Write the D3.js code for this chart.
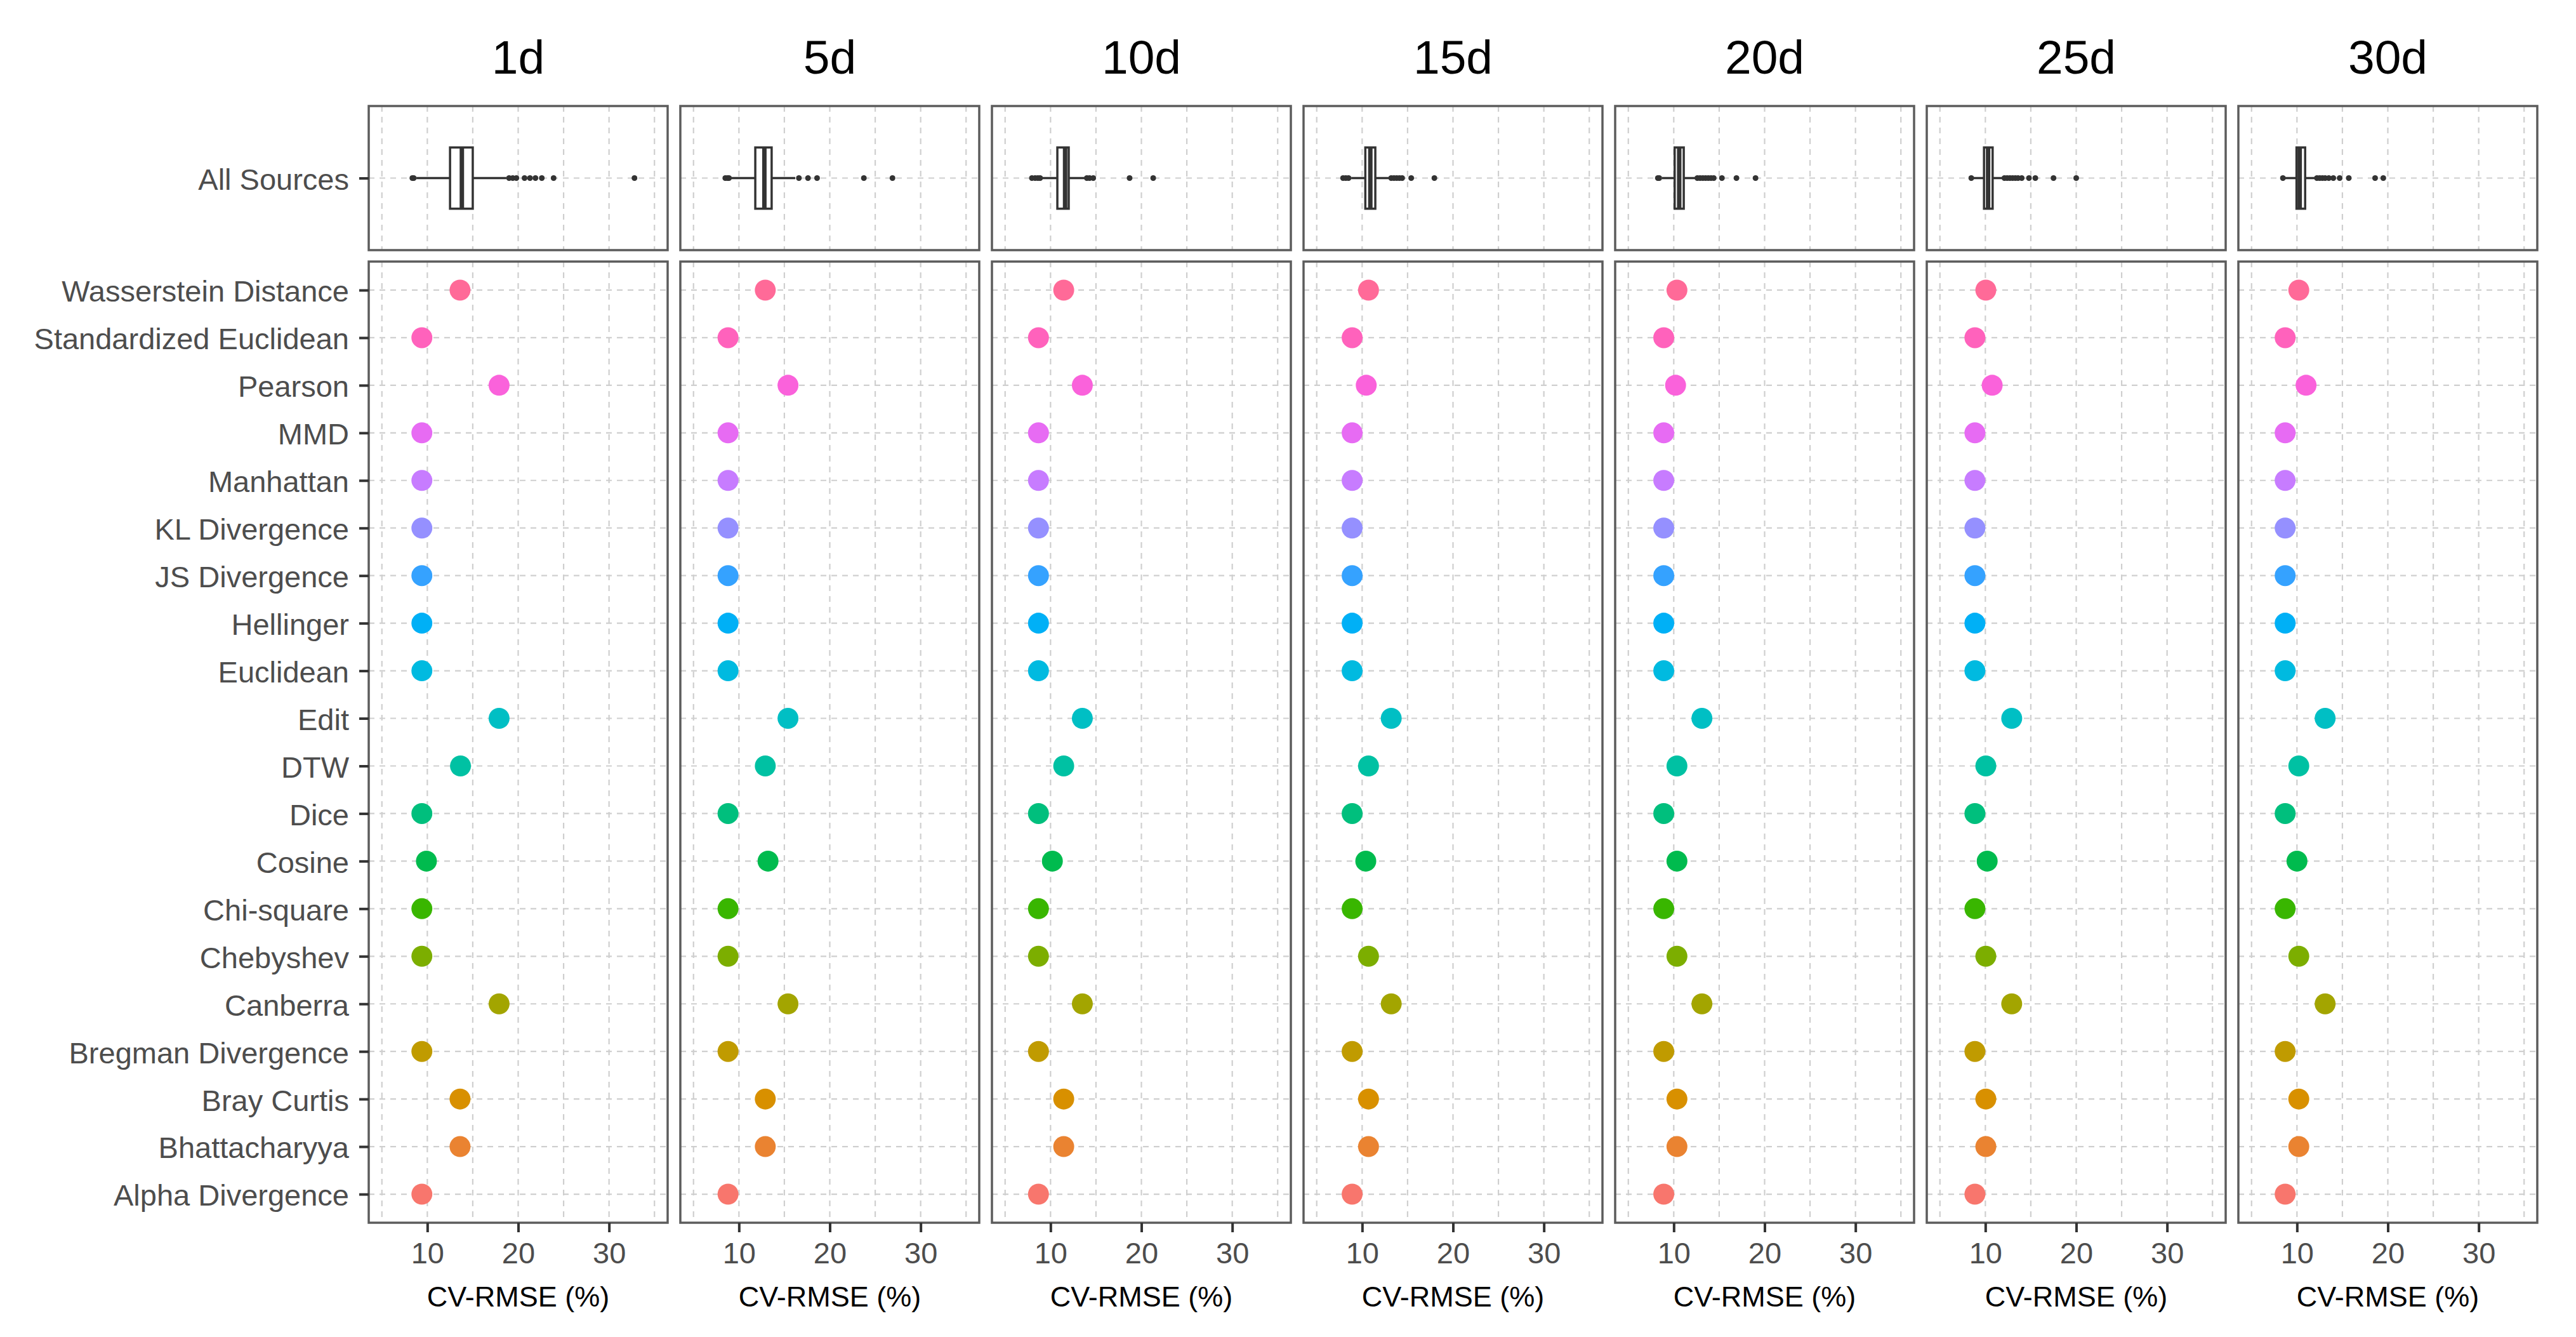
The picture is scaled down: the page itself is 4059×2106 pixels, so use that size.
<!DOCTYPE html>
<html>
<head>
<meta charset="utf-8">
<script src="https://cdn.jsdelivr.net/npm/d3@7"></script>
<style>
  html, body { margin: 0; padding: 0; background: #fff; }
  svg { display: block; font-family: "Liberation Sans", Arial, sans-serif; }
</style>
</head>
<body>
<script>
const width = 4059;
const height = 2106;

const facets = ["1d", "5d", "10d", "15d", "20d", "25d", "30d"];

// factor levels, alphabetical (Alpha at the bottom of the axis)
const methods = [
  "Alpha Divergence", "Bhattacharyya", "Bray Curtis", "Bregman Divergence", "Canberra",
  "Chebyshev", "Chi-square", "Cosine", "Dice", "DTW", "Edit", "Euclidean", "Hellinger",
  "JS Divergence", "KL Divergence", "Manhattan", "MMD", "Pearson",
  "Standardized Euclidean", "Wasserstein Distance"
];

// CV-RMSE (%) per method, same order as methods
const rmse1d  = [9.4, 13.6, 13.6, 9.4, 17.9, 9.4, 9.4, 9.9, 9.4, 13.65, 17.9, 9.4, 9.4, 9.4, 9.4, 9.4, 9.4, 17.9, 9.4, 13.6];
const rmse5d  = [8.8, 12.9, 12.9, 8.8, 15.4, 8.8, 8.8, 13.2, 8.8, 12.9, 15.4, 8.8, 8.8, 8.8, 8.8, 8.8, 8.8, 15.4, 8.8, 12.9];
const rmse10d = [8.67, 11.45, 11.45, 8.67, 13.5, 8.67, 8.67, 10.2, 8.67, 11.45, 13.5, 8.67, 8.67, 8.67, 8.67, 8.67, 8.67, 13.5, 8.67, 11.45];
const rmse15d = [8.9, 10.7, 10.7, 8.9, 13.2, 10.7, 8.9, 10.4, 8.9, 10.7, 13.2, 8.9, 8.9, 8.9, 8.9, 8.9, 8.9, 10.45, 8.9, 10.7];
const rmse20d = [8.9, 10.35, 10.35, 8.9, 13.1, 10.35, 8.9, 10.35, 8.9, 10.35, 13.1, 8.9, 8.9, 8.9, 8.9, 8.9, 8.9, 10.2, 8.9, 10.35];
const rmse25d = [8.85, 10.05, 10.05, 8.85, 12.9, 10.05, 8.85, 10.2, 8.85, 10.05, 12.9, 8.85, 8.85, 8.85, 8.85, 8.85, 8.85, 10.75, 8.85, 10.05];
const rmse30d = [8.7, 10.2, 10.2, 8.7, 13.1, 10.2, 8.7, 10.0, 8.7, 10.2, 13.1, 8.7, 8.7, 8.7, 8.7, 8.7, 8.7, 11.0, 8.7, 10.2];
const rmseByFacet = [rmse1d, rmse5d, rmse10d, rmse15d, rmse20d, rmse25d, rmse30d];

// "All Sources" boxplot: [lower whisker, q1, median, q3, upper whisker]
const box1d  = [8.8, 12.5, 13.8, 15.0, 18.7];
const box5d  = [9.1, 11.8, 12.8, 13.6, 16.2];
const box10d = [9.0, 10.75, 11.6, 12.0, 13.8];
const box15d = [8.8, 10.35, 10.9, 11.45, 13.0];
const box20d = [8.7, 10.1, 10.6, 11.1, 12.5];
const box25d = [8.6, 9.85, 10.3, 10.8, 11.9];
const box30d = [8.6, 9.95, 10.3, 10.9, 12.0];
const boxByFacet = [box1d, box5d, box10d, box15d, box20d, box25d, box30d];

const out1d  = [8.35, 8.5, 19.0, 19.4, 19.8, 20.7, 21.3, 21.9, 22.6, 23.9, 32.8];
const out5d  = [8.5, 8.75, 8.9, 16.6, 17.6, 18.6, 23.75, 26.9];
const out10d = [7.95, 8.3, 8.6, 8.85, 14.0, 14.3, 14.7, 18.7, 21.3];
const out15d = [7.9, 8.2, 8.5, 13.2, 13.5, 13.8, 14.1, 14.4, 15.4, 17.95];
const out20d = [8.25, 8.4, 12.6, 12.9, 13.2, 13.5, 13.8, 14.1, 14.4, 15.3, 16.9, 19.0];
const out25d = [8.45, 12.1, 12.4, 12.7, 13.0, 13.3, 13.6, 14.0, 14.8, 15.5, 17.5, 20.0];
const out30d = [8.45, 12.2, 12.5, 12.8, 13.1, 13.5, 14.0, 14.7, 15.7, 18.6, 19.5];
const outByFacet = [out1d, out5d, out10d, out15d, out20d, out25d, out30d];

const xTicks = [10, 20, 30];
const xGrid = [5, 10, 15, 20, 25, 30, 35];

// ggplot2 default hue palette: hcl(h, c = 100, l = 65) in polar CIELUV
function hclR(h, c, l) {
  const rad = h * Math.PI / 180;
  const U = c * Math.cos(rad), V = c * Math.sin(rad);
  const Xn = 95.047, Yn = 100, Zn = 108.883;
  const Y = Yn * (l > 7.999592 ? Math.pow((l + 16) / 116, 3) : l / 903.3);
  const t = Xn + Yn + Zn;
  const x = Xn / t, y = Yn / t;
  const uN = 2 * x / (6 * y - x + 1.5), vN = 4.5 * y / (6 * y - x + 1.5);
  const u = U / (13 * l) + uN, v = V / (13 * l) + vN;
  const X = 9 * Y * u / (4 * v);
  const Z = -X / 3 - 5 * Y + 3 * Y / v;
  const lin = [
    (3.240479 * X - 1.537150 * Y - 0.498535 * Z) / 100,
    (-0.969256 * X + 1.875992 * Y + 0.041556 * Z) / 100,
    (0.055648 * X - 0.204043 * Y + 1.057311 * Z) / 100
  ];
  const g = lin.map(a => {
    const s = a > 0.00304 ? 1.055 * Math.pow(a, 1 / 2.4) - 0.055 : 12.92 * a;
    return Math.round(Math.max(0, Math.min(1, s)) * 255);
  });
  return d3.rgb(g[0], g[1], g[2]).formatHex();
}
const hues = methods.map((m, i) => 15 + i * 360 / methods.length);
const color = d3.scaleOrdinal().domain(methods).range(hues.map(h => hclR(h, 100, 65)));

const svg = d3.select("body")
  .append("svg")
  .attr("width", width)
  .attr("height", height);

const panelLeft = 581;
const panelW = 471;
const panelStep = 491;
const topPanel = { y0: 167, y1: 394 };
const botPanel = { y0: 412, y1: 1926 };

const textGrey = "#4d4d4d";
const gridCol = "#cfcfcf";
const borderCol = "#5c5c5c";

const yTop = d3.scalePoint().domain(["All Sources"]).range([topPanel.y0, topPanel.y1]).padding(0.6);
const yBot = d3.scalePoint().domain(methods.slice().reverse()).range([botPanel.y0, botPanel.y1]).padding(0.6);
const topStep = (topPanel.y1 - topPanel.y0) / 1.2;

facets.forEach((f, i) => {
  const x0 = panelLeft + i * panelStep;
  const x = d3.scaleLinear().domain([3.55, 36.45]).range([x0, x0 + panelW]);
  const g = svg.append("g").attr("class", "facet");

  // strip title
  g.append("text")
    .attr("x", x0 + panelW / 2)
    .attr("y", 116)
    .attr("text-anchor", "middle")
    .attr("font-size", 75)
    .attr("fill", "#000")
    .text(f);

  [[topPanel, yTop, ["All Sources"]], [botPanel, yBot, methods]].forEach(([p, y, cats]) => {
    const grid = g.append("g");
    grid.selectAll("line.v")
      .data(xGrid)
      .join("line")
      .attr("x1", d => x(d)).attr("x2", d => x(d))
      .attr("y1", p.y0).attr("y2", p.y1)
      .attr("stroke", gridCol).attr("stroke-width", 2.2)
      .attr("stroke-dasharray", "9,8");
    grid.selectAll("line.h")
      .data(cats)
      .join("line")
      .attr("x1", x0).attr("x2", x0 + panelW)
      .attr("y1", d => y(d)).attr("y2", d => y(d))
      .attr("stroke", gridCol).attr("stroke-width", 2.2)
      .attr("stroke-dasharray", "9,8");
  });

  // boxplot of all sources
  const b = boxByFacet[i];
  const cy = yTop("All Sources");
  const bh = topStep * 0.51;
  const bx = g.append("g").attr("stroke", "#333").attr("stroke-width", 3.5);
  bx.append("line").attr("x1", x(b[0])).attr("x2", x(b[1])).attr("y1", cy).attr("y2", cy);
  bx.append("line").attr("x1", x(b[3])).attr("x2", x(b[4])).attr("y1", cy).attr("y2", cy);
  bx.append("rect")
    .attr("x", x(b[1])).attr("y", cy - bh / 2)
    .attr("width", x(b[3]) - x(b[1])).attr("height", bh)
    .attr("fill", "#fff");
  bx.append("line")
    .attr("x1", x(b[2])).attr("x2", x(b[2]))
    .attr("y1", cy - bh / 2).attr("y2", cy + bh / 2)
    .attr("stroke-width", 7);
  g.selectAll("circle.out")
    .data(outByFacet[i])
    .join("circle")
    .attr("class", "out")
    .attr("cx", d => x(d)).attr("cy", cy)
    .attr("r", 4.5)
    .attr("fill", "#333");

  // method points
  g.selectAll("circle.pt")
    .data(methods.map((m, k) => ({ m, v: rmseByFacet[i][k] })))
    .join("circle")
    .attr("class", "pt")
    .attr("cx", d => x(d.v)).attr("cy", d => yBot(d.m))
    .attr("r", 16.5)
    .attr("fill", d => color(d.m));

  // panel borders
  [topPanel, botPanel].forEach(p => {
    g.append("rect")
      .attr("x", x0).attr("y", p.y0)
      .attr("width", panelW).attr("height", p.y1 - p.y0)
      .attr("fill", "none").attr("stroke", borderCol).attr("stroke-width", 3.5);
  });

  // x axis
  const xAxis = g.append("g")
    .attr("transform", `translate(0,${botPanel.y1})`)
    .call(d3.axisBottom(x).tickValues(xTicks).tickSize(15).tickPadding(16).tickFormat(d3.format("d")));
  xAxis.select(".domain").remove();
  xAxis.selectAll(".tick line").attr("stroke", "#333").attr("stroke-width", 4);
  xAxis.selectAll(".tick text")
    .attr("font-size", 47).attr("fill", textGrey)
    .attr("font-family", "Liberation Sans, Arial, sans-serif");

  g.append("text")
    .attr("x", x0 + panelW / 2)
    .attr("y", 2058)
    .attr("text-anchor", "middle")
    .attr("font-size", 45)
    .attr("fill", "#000")
    .text("CV-RMSE (%)");

  if (i === 0) {
    [yTop, yBot].forEach(y => {
      const ya = g.append("g")
        .attr("transform", `translate(${x0},0)`)
        .call(d3.axisLeft(y).tickSize(15).tickPadding(16));
      ya.select(".domain").remove();
      ya.selectAll(".tick line").attr("stroke", "#333").attr("stroke-width", 4);
      ya.selectAll(".tick text")
        .attr("dy", "0.38em")
        .attr("font-size", 47).attr("fill", textGrey)
        .attr("font-family", "Liberation Sans, Arial, sans-serif");
    });
  }
});
</script>
</body>
</html>
